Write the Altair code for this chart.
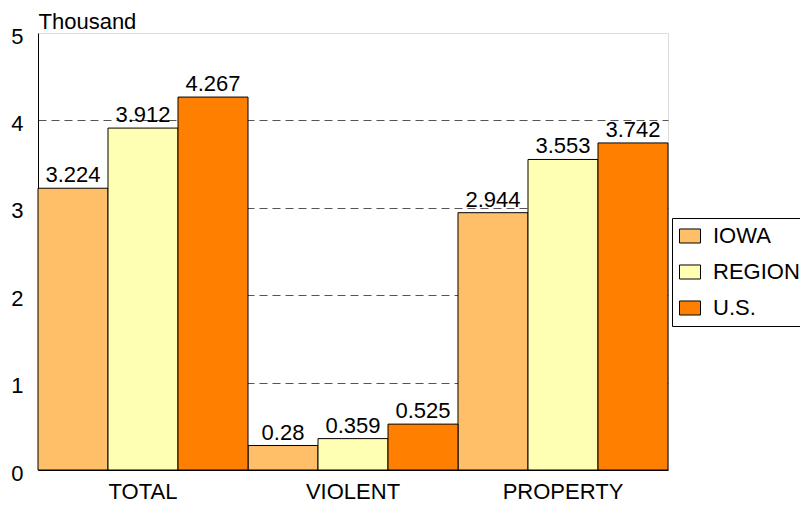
import altair as alt
import pandas as pd

categories = ["TOTAL", "VIOLENT", "PROPERTY"]
series = ["IOWA", "REGION", "U.S."]
iowa = [3.224, 0.28, 2.944]
region = [3.912, 0.359, 3.553]
us = [4.267, 0.525, 3.742]
colors = ["#FFBF69", "#FFFFB3", "#FF8000"]
y_ticks = [0, 1, 2, 3, 4, 5]

rows = []
for name, vals in zip(series, [iowa, region, us]):
    for c, v in zip(categories, vals):
        rows.append({"cat": c, "series": name, "value": v})
df = pd.DataFrame(rows)

FONT = "Liberation Sans"

x_enc = alt.X("cat:N", sort=categories,
              scale=alt.Scale(paddingInner=0, paddingOuter=0),
              axis=alt.Axis(title=None, labelAngle=0, labelPadding=11, ticks=False,
                            labelFont=FONT, labelFontSize=22, labelColor="black",
                            domainColor="black", grid=False))
xo_enc = alt.XOffset("series:N", sort=series,
                     scale=alt.Scale(paddingInner=0, paddingOuter=0))
y_enc = alt.Y("value:Q",
              scale=alt.Scale(domain=[0, 5], nice=False),
              axis=alt.Axis(title="Thousand", titleAngle=0, titleX=0, titleY=-5,
                            titleAlign="left", titleBaseline="alphabetic",
                            titleFont=FONT, titleFontSize=22, titleFontWeight="normal",
                            titleColor="black",
                            values=y_ticks, ticks=False, labelPadding=15,
                            labelFont=FONT, labelFontSize=22, labelColor="black",
                            labelOffset=3, grid=True, gridDash=[8, 5], gridColor="#555555",
                            gridOpacity=alt.condition("datum.value == 0 || datum.value == 5",
                                                      alt.value(0), alt.value(1)),
                            gridWidth=1, domainColor="black", format="d"))

bars = alt.Chart(df).mark_bar(stroke="black", strokeWidth=1, strokeOpacity=1).encode(
    x=x_enc,
    xOffset=xo_enc,
    y=y_enc,
    fill=alt.Fill("series:N", sort=series,
                  scale=alt.Scale(domain=series, range=colors),
                  legend=alt.Legend(title=None, orient="none", legendX=634, legendY=185,
                                    symbolType="M-1,-0.667H1V0.667H-1Z", symbolSize=441,
                                    symbolStrokeColor="black", symbolStrokeWidth=1,
                                    labelFontSize=22, labelFont=FONT, labelColor="black",
                                    labelOffset=12, rowPadding=14, padding=7,
                                    strokeColor="black", fillColor="white")),
)

labels = alt.Chart(df).mark_text(font=FONT, fontSize=22, color="black", align="center",
                                  baseline="alphabetic", dy=-6).encode(
    x=alt.X("cat:N", sort=categories),
    xOffset=alt.XOffset("series:N", sort=series),
    y=alt.Y("value:Q"),
    text=alt.Text("value:Q", format=""),
)

chart = alt.layer(bars, labels).properties(
    width=630, height=437,
    autosize=alt.AutoSizeParams(type="none"),
    padding={"left": 30, "top": 25, "right": 132, "bottom": 33},
).configure_view(stroke="black", strokeWidth=1).configure(background="white")

chart.save("out.html", embed_options={"renderer": "svg", "actions": False})
